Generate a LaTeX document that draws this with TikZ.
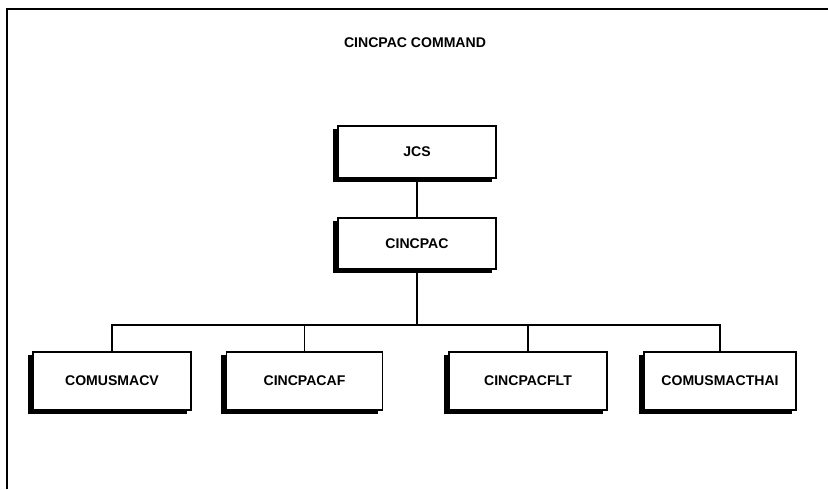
\documentclass[tikz,border=0pt]{standalone}
\usepackage{fontspec}
\setmainfont{Liberation Sans}
\usetikzlibrary{shadows}

\begin{document}
\begin{tikzpicture}[x=0.025cm, y=-0.025cm]
		\tikzset{
			orgbox/.style={draw, line width=0.9pt, fill=white,
				minimum width=3.95cm, minimum height=1.3cm,
				font=\bfseries\fontsize{10}{12}\selectfont,
				copy shadow={shadow xshift=-0.12cm, shadow yshift=-0.09cm, fill=black, draw=black}},
			link/.style={line width=1.1pt}
		}
		\useasboundingbox (0, 0) rectangle (828, 489);

		% frame
		\draw[line width=1.4pt] (7, 489) -- (7, 9) -- (828, 9);
		\node (title) at (415, 43) {\bfseries\fontsize{10}{12}\selectfont CINCPAC COMMAND};

		\node[orgbox] (jcs) at (417, 152) {JCS};
		\node[orgbox, minimum height=1.28cm] (cincpac) at (417, 243.5) {CINCPAC};
		\coordinate (bus) at (417, 325);

		\node[orgbox, minimum height=1.45cm] (macv) at (112, 381) {COMUSMACV};
		\node[orgbox, minimum height=1.45cm, minimum width=3.9cm] (pacaf) at (304.5, 381) {CINCPACAF};
		\node[orgbox, minimum height=1.45cm] (pacflt) at (528, 381) {CINCPACFLT};
		\node[orgbox, minimum height=1.45cm, minimum width=3.8cm] (thai) at (720, 381) {COMUSMACTHAI};

		\draw[link] (jcs) -- (cincpac);
		\draw[link] (cincpac) -- (bus);
		\draw[link] (bus) -| (macv.north);
		\draw[link] (bus) -| (pacaf.north);
		\draw[link] (bus) -| (pacflt.north);
		\draw[link] (bus) -| (thai.north);
	\end{tikzpicture}
\end{document}
